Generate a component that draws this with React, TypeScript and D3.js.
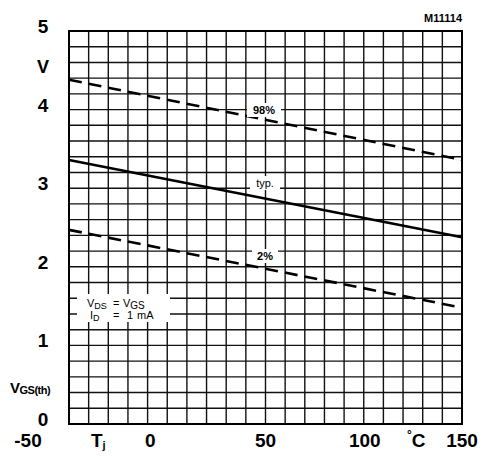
import React from "react";
import * as d3 from "d3";

const temps = [-50, 150];
const p98 = [4.38, 3.36];
const typ = [3.36, 2.375];
const p2 = [2.47, 1.48];
const yTicks = [0, 1, 2, 3, 4, 5];
const xTickVals = [-50, 0, 50, 100, 150];
const xTickText = ["-50", "0", "50", "100", "150"];

const W = 483, H = 457;
const L = 69, R = 462, T = 31, B = 424;

export default function App() {
  const x = d3.scaleLinear().domain([-50, 150]).range([L, R]);
  const y = d3.scaleLinear().domain([0, 5]).range([B, T]);
  const vLines = d3.range(-50, 151, 10);
  const hLines = d3.range(0, 5.001, 0.2);
  const line = d3.line<number>().x((_, i) => x(temps[i])).y((d) => y(d));
  const font = "'Liberation Sans', Arial, sans-serif";
  const xOff: Record<number, number> = { [-50]: -41, 0: -17, 50: 0, 100: 1, 150: 0 };

  return (
    <svg width={W} height={H} style={{ position: "absolute", left: 0, top: 0, background: "#fff" }} fontFamily={font}>
      <rect x={0} y={0} width={W} height={H} fill="#fff" />
      {vLines.map((v) => (
        <line key={"v" + v} x1={x(v)} x2={x(v)} y1={T} y2={B} stroke="#111" strokeWidth={1.4} />
      ))}
      {hLines.map((v, i) => (
        <line key={"h" + i} x1={L} x2={R} y1={y(v)} y2={y(v)} stroke="#111" strokeWidth={1.4} />
      ))}
      <rect x={L} y={T} width={R - L} height={B - T} fill="none" stroke="#000" strokeWidth={2} />

      <path d={line(p98) || ""} fill="none" stroke="#000" strokeWidth={2.6} strokeDasharray="13,7" />
      <path d={line(typ) || ""} fill="none" stroke="#000" strokeWidth={2.6} />
      <path d={line(p2) || ""} fill="none" stroke="#000" strokeWidth={2.6} strokeDasharray="13,7" />

      <rect x={247} y={103} width={34} height={14} fill="#fff" />
      <text x={264} y={114} fontSize={11} fontWeight="bold" textAnchor="middle">98%</text>
      <rect x={250} y={176} width={30} height={14} fill="#fff" />
      <text x={265} y={187} fontSize={11} textAnchor="middle">typ.</text>
      <rect x={252} y={249} width={26} height={14} fill="#fff" />
      <text x={265} y={260} fontSize={11} fontWeight="bold" textAnchor="middle">2%</text>

      <rect x={77} y={294} width={93} height={28} fill="#fff" />
      <text x={87} y={307} fontSize={11}>V<tspan fontSize={9} dy={2}>DS</tspan></text>
      <text x={113} y={307} fontSize={11}>=</text>
      <text x={123} y={307} fontSize={11}>V<tspan fontSize={10} dy={2}>GS</tspan></text>
      <text x={90} y={319} fontSize={11}>I<tspan fontSize={9} dy={2}>D</tspan></text>
      <text x={113} y={319} fontSize={11}>=</text>
      <text x={127} y={319} fontSize={11}>1</text>
      <text x={137} y={319} fontSize={11}>mA</text>

      {yTicks.map((t) => (
        <text key={"yt" + t} x={43} y={y(t) + 2} fontSize={19} fontWeight="bold" textAnchor="middle">{t}</text>
      ))}
      <text x={43} y={73} fontSize={18} fontWeight="bold" textAnchor="middle">V</text>
      <text x={10} y={393} fontSize={15} fontWeight="bold" letterSpacing={-0.5}>
        V<tspan fontSize={11} dy={1}>GS(th)</tspan>
      </text>

      {xTickVals.map((v, i) => (
        <text key={"xt" + v} x={x(v) + xOff[v]} y={447} fontSize={19} fontWeight="bold" textAnchor="middle">{xTickText[i]}</text>
      ))}
      <text x={91} y={447} fontSize={19} fontWeight="bold">T<tspan fontSize={11} dy={2}>j</tspan></text>
      <text x={407} y={447} fontSize={19} fontWeight="bold"><tspan fontSize={12} dy={-8}>°</tspan><tspan dy={8}>C</tspan></text>

      <text x={462} y={22} fontSize={11} fontWeight="bold" textAnchor="end">M11114</text>
    </svg>
  );
}
